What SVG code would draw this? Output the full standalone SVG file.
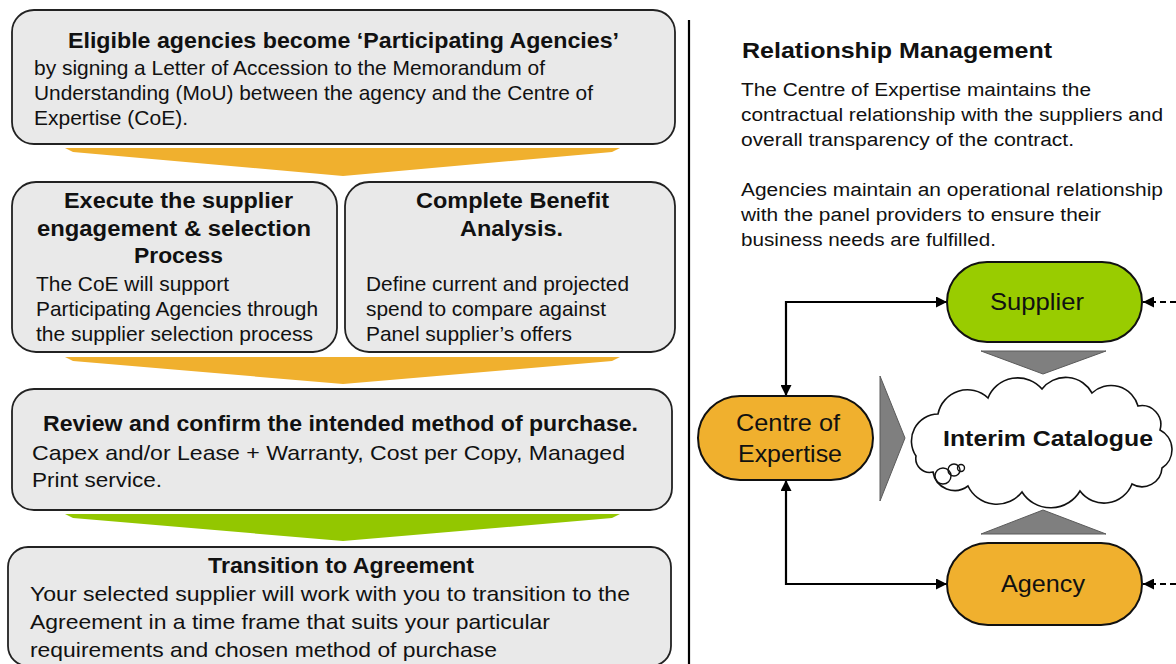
<svg xmlns="http://www.w3.org/2000/svg" width="1176" height="664" viewBox="0 0 1176 664">
  <style>
    text { font-family: "Liberation Sans", Arial, sans-serif; fill: #111; }
    .hd { font-weight: bold; font-size: 22px; }
    .bd { font-size: 21px; }
    .rh { font-weight: bold; font-size: 22px; }
    .rb { font-size: 18px; }
    .lbl { font-size: 24px; }
    .box { fill: #e9e9e9; stroke: #222; stroke-width: 1.8; }
    .pill { stroke: #111; stroke-width: 2; }
    .tri { fill: #7f7f7f; stroke: #5a5a5a; stroke-width: 1; }
    .link { fill: none; stroke: #000; stroke-width: 2.2; }
    .dash { fill: none; stroke: #000; stroke-width: 1.8; stroke-dasharray: 6 4; }
  </style>
  <defs>
    <marker id="head" viewBox="0 0 10 10" refX="10" refY="5" markerWidth="11" markerHeight="11" markerUnits="userSpaceOnUse" orient="auto-start-reverse">
      <path d="M0,0 L10,5 L0,10 Z" fill="#000"/>
    </marker>
  </defs>

  <rect width="1176" height="664" fill="#fff"/>

  <!-- process steps -->
  <g id="step-accession">
    <rect class="box" x="12" y="10" width="663" height="134" rx="22"/>
    <text class="hd" x="68" y="48" textLength="551" lengthAdjust="spacingAndGlyphs">Eligible agencies become ‘Participating Agencies’</text>
    <text class="bd" x="34" y="75" textLength="511" lengthAdjust="spacingAndGlyphs">by signing a Letter of Accession to the Memorandum  of</text>
    <text class="bd" x="34" y="100" textLength="559" lengthAdjust="spacingAndGlyphs">Understanding (MoU) between the agency and the Centre of</text>
    <text class="bd" x="34" y="125" textLength="154" lengthAdjust="spacingAndGlyphs">Expertise (CoE).</text>
  </g>

  <g id="chevron-1">
    <polygon points="65,148 620,148 612,152 343,176 73,152" fill="#f0b02e"/>
  </g>

  <g id="step-selection">
    <rect class="box" x="12" y="182" width="325" height="170" rx="24"/>
    <text class="hd" x="64" y="208" textLength="229" lengthAdjust="spacingAndGlyphs">Execute the supplier</text>
    <text class="hd" x="37" y="236" textLength="274" lengthAdjust="spacingAndGlyphs">engagement &amp; selection</text>
    <text class="hd" x="134" y="263" textLength="89" lengthAdjust="spacingAndGlyphs">Process</text>
    <text class="bd" x="36" y="291" textLength="193" lengthAdjust="spacingAndGlyphs">The CoE will support</text>
    <text class="bd" x="36" y="316" textLength="282" lengthAdjust="spacingAndGlyphs">Participating Agencies through</text>
    <text class="bd" x="36" y="341" textLength="277" lengthAdjust="spacingAndGlyphs">the supplier selection process</text>
  </g>

  <g id="step-benefit">
    <rect class="box" x="345" y="182" width="330" height="170" rx="24"/>
    <text class="hd" x="416" y="208" textLength="193" lengthAdjust="spacingAndGlyphs">Complete Benefit</text>
    <text class="hd" x="460" y="236" textLength="103" lengthAdjust="spacingAndGlyphs">Analysis.</text>
    <text class="bd" x="366" y="291" textLength="263" lengthAdjust="spacingAndGlyphs">Define current and projected</text>
    <text class="bd" x="366" y="316" textLength="240" lengthAdjust="spacingAndGlyphs">spend to compare against</text>
    <text class="bd" x="366" y="341" textLength="206" lengthAdjust="spacingAndGlyphs">Panel supplier’s offers</text>
  </g>

  <g id="chevron-2">
    <polygon points="65,357 620,357 612,361 343,384 73,361" fill="#f0b02e"/>
  </g>

  <g id="step-method">
    <rect class="box" x="12" y="389" width="660" height="121" rx="22"/>
    <text class="hd" x="43" y="431" textLength="595" lengthAdjust="spacingAndGlyphs">Review and confirm the intended method of purchase.</text>
    <text class="bd" x="32" y="460" textLength="593" lengthAdjust="spacingAndGlyphs">Capex and/or Lease + Warranty, Cost per Copy, Managed</text>
    <text class="bd" x="32" y="487" textLength="130" lengthAdjust="spacingAndGlyphs">Print service.</text>
  </g>

  <g id="chevron-3">
    <polygon points="65,514 620,514 612,518 343,541 73,518" fill="#93c700"/>
  </g>

  <g id="step-transition">
    <rect class="box" x="8" y="547" width="663" height="119" rx="20"/>
    <text class="hd" x="208" y="573" textLength="266" lengthAdjust="spacingAndGlyphs">Transition to Agreement</text>
    <text class="bd" x="30" y="601" textLength="600" lengthAdjust="spacingAndGlyphs">Your selected supplier will work with you to transition to the</text>
    <text class="bd" x="30" y="629" textLength="520" lengthAdjust="spacingAndGlyphs">Agreement in a time frame that suits your particular</text>
    <text class="bd" x="30" y="657" textLength="467" lengthAdjust="spacingAndGlyphs">requirements and chosen method of purchase</text>
  </g>

  <!-- divider between the two halves -->
  <line x1="689" y1="20" x2="689" y2="664" stroke="#000" stroke-width="2.2"/>

  <!-- relationship notes -->
  <g id="notes">
    <text class="rh" x="742" y="58" textLength="310" lengthAdjust="spacingAndGlyphs">Relationship Management</text>
    <text class="rb" x="741" y="96" textLength="350" lengthAdjust="spacingAndGlyphs">The Centre of Expertise maintains the</text>
    <text class="rb" x="741" y="121" textLength="422" lengthAdjust="spacingAndGlyphs">contractual relationship with the suppliers and</text>
    <text class="rb" x="741" y="146" textLength="333" lengthAdjust="spacingAndGlyphs">overall transparency of the contract.</text>
    <text class="rb" x="741" y="196" textLength="422" lengthAdjust="spacingAndGlyphs">Agencies maintain an operational relationship</text>
    <text class="rb" x="741" y="221" textLength="360" lengthAdjust="spacingAndGlyphs">with the panel providers to ensure their</text>
    <text class="rb" x="741" y="246" textLength="255" lengthAdjust="spacingAndGlyphs">business needs are fulfilled.</text>
  </g>

  <!-- connectors -->
  <g id="connectors">
    <path class="link" d="M786,396 V302 H947" marker-start="url(#head)" marker-end="url(#head)"/>
    <path class="link" d="M786,480 V584 H947" marker-start="url(#head)" marker-end="url(#head)"/>
    <path class="dash" d="M1176,302 H1143" marker-end="url(#head)"/>
    <path class="dash" d="M1176,584 H1143" marker-end="url(#head)"/>
  </g>

  <g id="feed-supplier"><polygon class="tri" points="981,351 1106,351 1043,374"/></g>
  <g id="feed-agency"><polygon class="tri" points="981,534 1106,534 1043,510"/></g>
  <g id="feed-centre"><polygon class="tri" points="880,376 880,501 905,438"/></g>

  <g id="supplier">
    <rect class="pill" x="947" y="262" width="195" height="80" rx="40" fill="#99cc00"/>
    <text class="lbl" x="990" y="310" textLength="94" lengthAdjust="spacingAndGlyphs">Supplier</text>
  </g>

  <g id="centre-of-expertise">
    <rect class="pill" x="698" y="396" width="175" height="84" rx="42" fill="#f0b02e"/>
    <text class="lbl" x="736" y="431" textLength="104" lengthAdjust="spacingAndGlyphs">Centre of</text>
    <text class="lbl" x="738" y="462" textLength="104" lengthAdjust="spacingAndGlyphs">Expertise</text>
  </g>

  <g id="agency">
    <rect class="pill" x="947" y="543" width="195" height="82" rx="41" fill="#f0b02e"/>
    <text class="lbl" x="1001" y="592" textLength="84" lengthAdjust="spacingAndGlyphs">Agency</text>
  </g>

  <g id="interim-catalogue">
    <path d="M916,456 A27,27 0 0 1 938,414 A30,30 0 0 1 988,398 A32,32 0 0 1 1042,389 A30,30 0 0 1 1092,393 A28,28 0 0 1 1138,406 A19,19 0 0 1 1160,430 A22,22 0 0 1 1162,468 A20,20 0 0 1 1132,484 A30,30 0 0 1 1080,491 A34,34 0 0 1 1022,492 A32,32 0 0 1 968,486 A22,22 0 0 1 933,472 A14,14 0 0 1 916,456 Z" fill="#fff" stroke="#111" stroke-width="1.6"/>
    <circle cx="943" cy="476" r="8" fill="none" stroke="#111" stroke-width="1.4"/>
    <circle cx="954" cy="470" r="6" fill="none" stroke="#111" stroke-width="1.4"/>
    <circle cx="961" cy="468" r="3.5" fill="none" stroke="#111" stroke-width="1.4"/>
    <text x="943" y="446" font-weight="bold" font-size="22" textLength="210" lengthAdjust="spacingAndGlyphs">Interim Catalogue</text>
  </g>
</svg>
